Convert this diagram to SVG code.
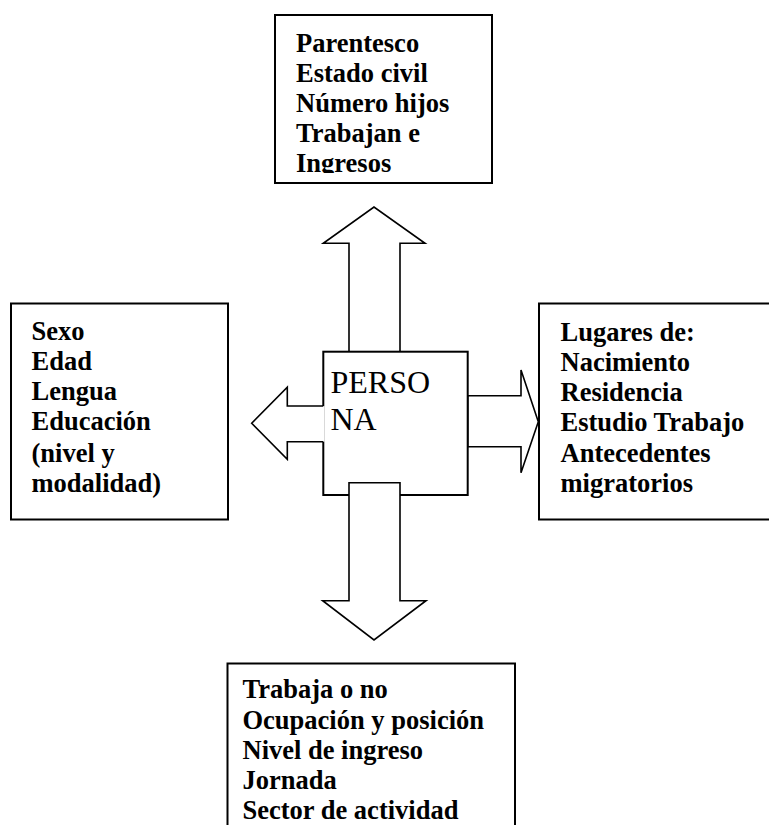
<svg xmlns="http://www.w3.org/2000/svg" width="769" height="825" viewBox="0 0 769 825">
<style>
.box{fill:#fff;stroke:#000;stroke-width:2}
.arr{fill:#fff;stroke:#000;stroke-width:1.6;stroke-linejoin:miter}
.t{font-family:"Liberation Serif","Times New Roman",serif;font-weight:bold;font-size:26.5px;fill:#000}
.p{font-family:"Liberation Serif","Times New Roman",serif;font-size:32px;fill:#000}
</style>
<defs>
<clipPath id="clipTop"><rect x="276" y="16" width="215" height="157"/></clipPath>
</defs>
<rect width="769" height="825" fill="#fff"/>
<g id="node-top">
<rect class="box" x="275" y="15" width="217" height="168"/>
<g clip-path="url(#clipTop)">
<text class="t" x="296" y="51.5">Parentesco</text>
<text class="t" x="296" y="81.5">Estado civil</text>
<text class="t" x="296" y="111.5">Número hijos</text>
<text class="t" x="296" y="141.5">Trabajan e</text>
<text class="t" x="296" y="171.5">Ingresos</text>
</g>
</g>
<g id="node-left">
<rect class="box" x="11" y="303.5" width="217" height="216"/>
<text class="t" x="31.5" y="340">Sexo</text>
<text class="t" x="31.5" y="370">Edad</text>
<text class="t" x="31.5" y="400">Lengua</text>
<text class="t" x="31.5" y="430">Educación</text>
<text class="t" x="31.5" y="462">(nivel y</text>
<text class="t" x="31.5" y="492">modalidad)</text>
</g>
<g id="node-right">
<rect class="box" x="539" y="303.5" width="240" height="216"/>
<text class="t" x="560.5" y="341">Lugares de:</text>
<text class="t" x="560.5" y="371">Nacimiento</text>
<text class="t" x="560.5" y="401">Residencia</text>
<text class="t" x="560.5" y="431">Estudio Trabajo</text>
<text class="t" x="560.5" y="461.5">Antecedentes</text>
<text class="t" x="560.5" y="491.5">migratorios</text>
</g>
<g id="node-bottom">
<rect class="box" x="227.5" y="663.5" width="287.5" height="180"/>
<text class="t" x="242.5" y="698">Trabaja o no</text>
<text class="t" x="242.5" y="728.5">Ocupación y posición</text>
<text class="t" x="242.5" y="758.5">Nivel de ingreso</text>
<text class="t" x="242.5" y="788.5">Jornada</text>
<text class="t" x="242.5" y="819">Sector de actividad</text>
</g>
<g id="connectors">
<polygon id="arrow-up" class="arr" points="349,351.7 349,243.3 323.3,243.3 374,207 425,243.3 400,243.3 400,351.7"/>
<polygon id="arrow-right" class="arr" points="467.7,395.7 521,395.7 521,370 538.3,421.7 521,472.7 521,446.7 467.7,446.7"/>
</g>
<g id="node-center">
<rect class="box" x="323.3" y="351.7" width="144.4" height="143.3"/>
<text class="p" x="330.5" y="392.5">PERSO</text>
<text class="p" x="330.5" y="430">NA</text>
</g>
<g id="connectors-over">
<polygon points="324.5,406 287.3,406 287.3,387.3 251.7,423.3 287.3,459.3 287.3,441.7 324.5,441.7" fill="#fff" stroke="none"/>
<polyline id="arrow-left" class="arr" fill="none" points="323.3,406 287.3,406 287.3,387.3 251.7,423.3 287.3,459.3 287.3,441.7 323.3,441.7"/>
<polygon id="arrow-down" class="arr" points="349,482.7 400,482.7 400,600.7 426,600.7 374,640 322.7,600.7 349,600.7"/>
</g>
</svg>
